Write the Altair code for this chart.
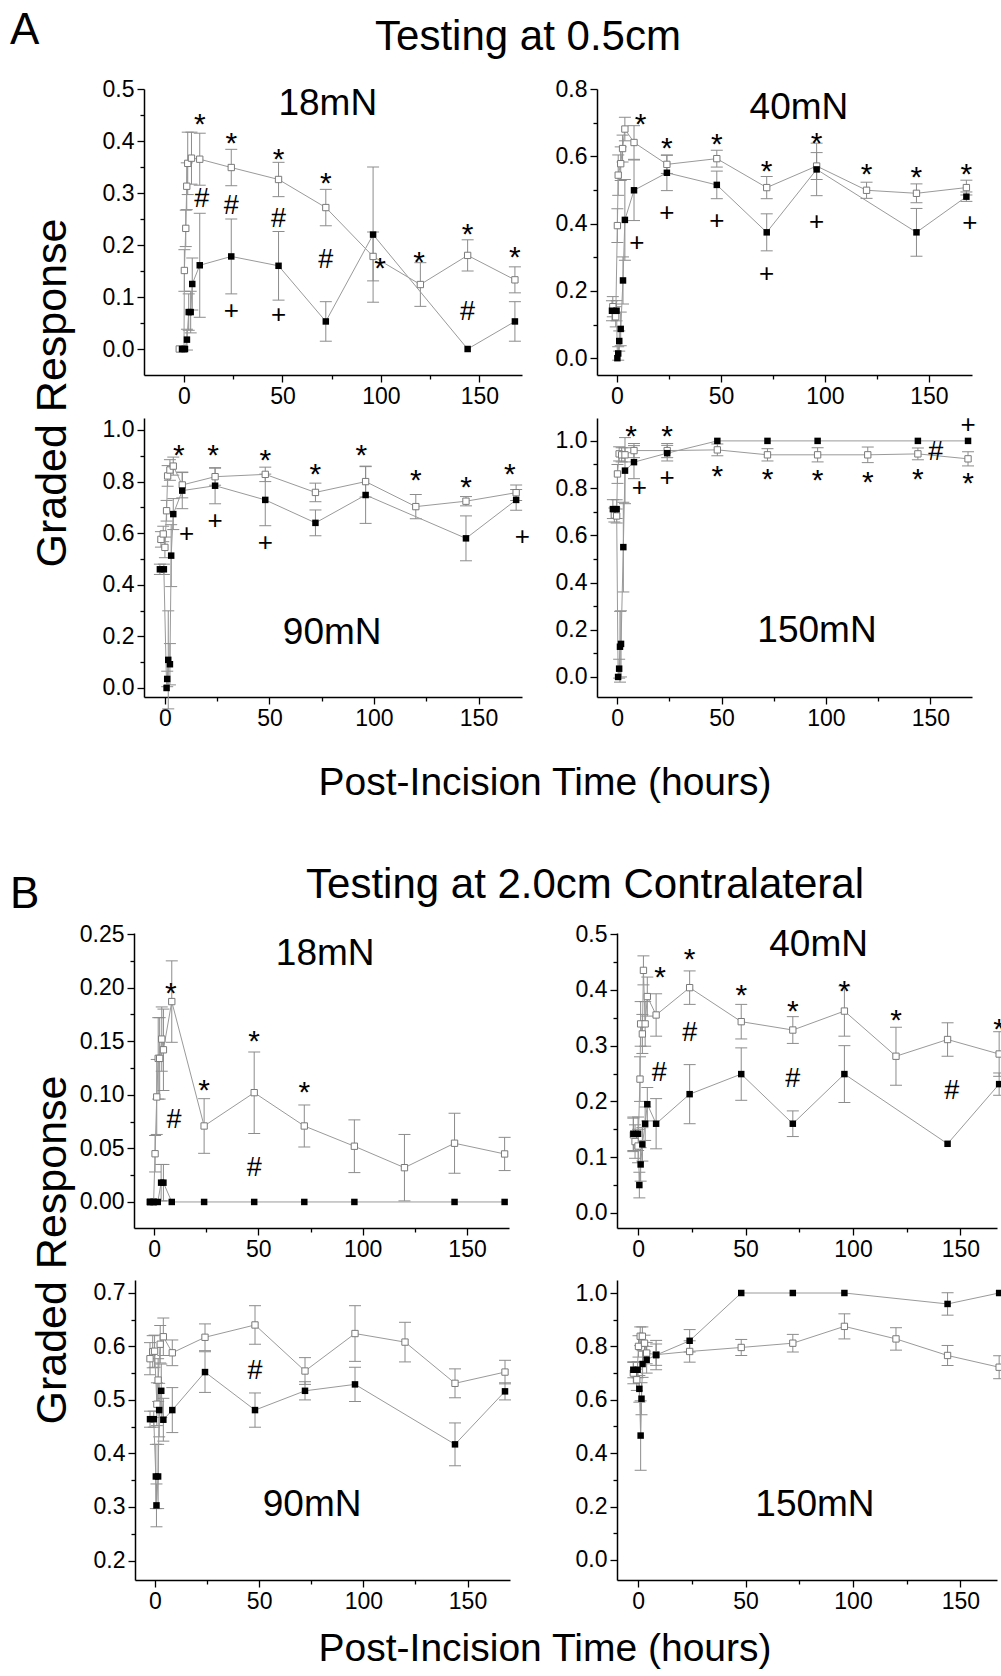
import altair as alt
import pandas as pd

FONT = "Liberation Sans"
ERR = "#8c8c8c"
LINE = "#9a9a9a"
OPEN_STROKE = "#7a7a7a"

X_TICKS = [0, 25, 50, 75, 100, 125, 150]

# ---------------- Panel A (testing at 0.5 cm) ----------------
A18_open_t = [-2.4, 0.0, 0.2, 0.9, 1.4, 1.9, 3.8, 8, 24, 48, 72, 96, 120, 144, 168]
A18_open_v = [0.0, 0.0, 0.151, 0.232, 0.313, 0.357, 0.367, 0.365, 0.349, 0.326, 0.272, 0.178, 0.124, 0.180, 0.133]
A18_open_e = [0.0, 0.0, 0.04, 0.035, 0.045, 0.06, 0.05, 0.05, 0.035, 0.033, 0.035, 0.047, 0.042, 0.03, 0.025]
A18_fill_t = [-1.0, 0.5, 1.5, 2.4, 3.4, 4.2, 8, 24, 48, 72, 96, 144, 168]
A18_fill_v = [0.0, 0.0, 0.018, 0.071, 0.071, 0.125, 0.161, 0.178, 0.160, 0.053, 0.220, 0.0, 0.053]
A18_fill_e = [0.0, 0.0, 0.02, 0.035, 0.04, 0.05, 0.10, 0.072, 0.066, 0.038, 0.13, 0.0, 0.038]
A18_ann_s = ["*", "*", "*", "*", "*", "*", "*", "*", "#", "#", "#", "#", "#", "+", "+"]
A18_ann_t = [8.1, 24, 48, 72, 99.5, 119.4, 144, 168, 9, 24, 48, 72, 144, 24, 48]
A18_ann_v = [0.446, 0.409, 0.378, 0.332, 0.170, 0.181, 0.235, 0.191, 0.291, 0.278, 0.253, 0.174, 0.075, 0.075, 0.068]
A18_yticks = [0.0, 0.05, 0.1, 0.15, 0.2, 0.25, 0.3, 0.35, 0.4, 0.45, 0.5]

A40_open_t = [-2, -0.6, 0.2, 0.6, 1.8, 2.7, 3.8, 8.2, 24, 48, 72, 96, 120, 144, 168]
A40_open_v = [0.153, 0.123, 0.394, 0.544, 0.578, 0.623, 0.681, 0.641, 0.576, 0.593, 0.507, 0.571, 0.499, 0.490, 0.507]
A40_open_e = [0.03, 0.03, 0.05, 0.06, 0.05, 0.04, 0.035, 0.05, 0.027, 0.025, 0.033, 0.04, 0.024, 0.028, 0.022]
A40_fill_t = [-2.4, -0.2, 0.2, 0.6, 1.1, 1.8, 2.9, 3.8, 8.2, 24, 48, 72, 96, 144, 168]
A40_fill_v = [0.141, 0.141, 0.0, 0.014, 0.051, 0.087, 0.231, 0.411, 0.499, 0.551, 0.515, 0.374, 0.561, 0.374, 0.480]
A40_fill_e = [0.03, 0.03, 0.0, 0.02, 0.03, 0.05, 0.07, 0.12, 0.09, 0.053, 0.041, 0.055, 0.078, 0.071, 0.014]
A40_ann_s = ["*", "*", "*", "*", "*", "*", "*", "*", "+", "+", "+", "+", "+", "+"]
A40_ann_t = [11.4, 24, 48, 72, 96, 120, 144, 168, 9.5, 24, 48, 72, 96, 169.7]
A40_ann_v = [0.718, 0.646, 0.656, 0.576, 0.659, 0.568, 0.559, 0.568, 0.347, 0.434, 0.410, 0.253, 0.407, 0.404]
A40_yticks = [0.0, 0.1, 0.2, 0.3, 0.4, 0.5, 0.6, 0.7, 0.8]

A90_open_t = [-1.9, -0.8, 0, 0.8, 1.3, 2.4, 4, 8.3, 24, 48, 72, 96, 120, 144, 168]
A90_open_v = [0.576, 0.597, 0.545, 0.687, 0.822, 0.845, 0.860, 0.787, 0.819, 0.828, 0.758, 0.800, 0.703, 0.724, 0.757]
A90_open_e = [0.03, 0.03, 0.04, 0.04, 0.04, 0.04, 0.035, 0.05, 0.033, 0.028, 0.036, 0.06, 0.047, 0.018, 0.03]
A90_fill_t = [-2.4, -0.5, 0.8, 1.1, 1.6, 2.4, 3, 4, 8.3, 24, 48, 72, 96, 144, 168]
A90_fill_v = [0.460, 0.460, 0.0, 0.035, 0.109, 0.092, 0.513, 0.674, 0.765, 0.784, 0.729, 0.640, 0.748, 0.580, 0.729]
A90_fill_e = [0.02, 0.02, 0.0, 0.03, 0.19, 0.08, 0.12, 0.06, 0.07, 0.07, 0.10, 0.05, 0.11, 0.087, 0.04]
A90_ann_s = ["*", "*", "*", "*", "*", "*", "*", "*", "+", "+", "+", "+"]
A90_ann_t = [6.7, 23, 48, 72, 94, 120, 144, 165, 10.4, 24, 48, 171]
A90_ann_v = [0.929, 0.929, 0.912, 0.858, 0.929, 0.832, 0.806, 0.858, 0.603, 0.651, 0.567, 0.59]
A90_yticks = [0.0, 0.1, 0.2, 0.3, 0.4, 0.5, 0.6, 0.7, 0.8, 0.9, 1.0]

A150_open_t = [-1.3, -0.2, 0.2, 1, 2.2, 3.8, 8.1, 24, 48, 72, 96, 120, 144, 168]
A150_open_v = [0.686, 0.682, 0.860, 0.945, 0.941, 0.941, 0.959, 0.959, 0.962, 0.941, 0.941, 0.941, 0.945, 0.924]
A150_open_e = [0.03, 0.03, 0.04, 0.03, 0.03, 0.03, 0.03, 0.03, 0.025, 0.026, 0.03, 0.033, 0.025, 0.03]
A150_fill_t = [-2, -0.2, 0.5, 1, 1.4, 1.9, 3, 3.8, 8.1, 24, 48, 72, 96, 144, 168]
A150_fill_v = [0.711, 0.711, 0.0, 0.035, 0.128, 0.140, 0.550, 0.874, 0.910, 0.948, 1.0, 1.0, 1.0, 1.0, 1.0]
A150_fill_e = [0.04, 0.04, 0.0, 0.04, 0.15, 0.14, 0.19, 0.14, 0.07, 0.033, 0.0, 0.0, 0.0, 0.0, 0.0]
A150_ann_s = ["*", "*", "*", "*", "*", "*", "*", "*", "+", "+", "+", "#"]
A150_ann_t = [6.7, 24, 48, 72, 96, 120, 144, 168, 10.7, 24, 168, 152.6]
A150_ann_v = [1.05, 1.05, 0.880, 0.870, 0.863, 0.856, 0.870, 0.852, 0.806, 0.849, 1.072, 0.959]
A150_yticks = [0.0, 0.1, 0.2, 0.3, 0.4, 0.5, 0.6, 0.7, 0.8, 0.9, 1.0]

# ---------------- Panel B (testing at 2.0 cm contralateral) ----------------
B18_open_t = [-1.9, -0.2, 0.5, 1.3, 2, 2.7, 3.7, 4.5, 8.5, 24, 48, 72, 96, 120, 144, 168]
B18_open_v = [0.0, 0.0, 0.045, 0.098, 0.134, 0.134, 0.152, 0.142, 0.187, 0.0709, 0.102, 0.0709, 0.052, 0.032, 0.0548, 0.0448]
B18_open_e = [0.0, 0.0, 0.017, 0.035, 0.038, 0.038, 0.03, 0.038, 0.038, 0.0255, 0.038, 0.0196, 0.0246, 0.031, 0.028, 0.0155]
B18_fill_t = [-1.9, -0.2, 1.8, 3.4, 4.5, 8.5, 24, 48, 72, 96, 144, 168]
B18_fill_v = [0.0, 0.0, 0.0, 0.018, 0.018, 0.0, 0.0, 0.0, 0.0, 0.0, 0.0, 0.0]
B18_fill_e = [0.0, 0.0, 0.0, 0.017, 0.017, 0.0, 0.0, 0.0, 0.0, 0.0, 0.0, 0.0]
B18_ann_s = ["*", "*", "*", "*", "#", "#"]
B18_ann_t = [8, 24, 48, 72, 9.6, 48]
B18_ann_v = [0.202, 0.111, 0.157, 0.109, 0.078, 0.033]
B18_yticks = [0.0, 0.025, 0.05, 0.075, 0.1, 0.125, 0.15, 0.175, 0.2, 0.225, 0.25]

B40_open_t = [-2.2, -1.4, 0, 0.9, 1.2, 2, 2.5, 3.3, 4.3, 8.4, 24, 48, 72, 96, 120, 144, 168]
B40_open_v = [0.14, 0.128, 0.12, 0.240, 0.339, 0.321, 0.435, 0.339, 0.388, 0.355, 0.404, 0.343, 0.328, 0.362, 0.281, 0.311, 0.285]
B40_open_e = [0.03, 0.03, 0.03, 0.04, 0.04, 0.035, 0.026, 0.04, 0.035, 0.038, 0.03, 0.031, 0.024, 0.045, 0.052, 0.030, 0.04]
B40_fill_t = [-2.2, 0, 0.6, 1.2, 2, 3.3, 4.3, 8.4, 24, 48, 72, 96, 144, 168]
B40_fill_v = [0.142, 0.142, 0.050, 0.087, 0.123, 0.160, 0.195, 0.160, 0.213, 0.249, 0.160, 0.249, 0.124, 0.231]
B40_fill_e = [0.03, 0.03, 0.023, 0.03, 0.03, 0.03, 0.03, 0.045, 0.053, 0.047, 0.023, 0.051, 0.0, 0.02]
B40_ann_s = ["*", "*", "*", "*", "*", "*", "*", "#", "#", "#", "#"]
B40_ann_t = [10.2, 24, 48, 72, 96, 120, 168, 9.9, 24, 72, 146]
B40_ann_v = [0.435, 0.468, 0.404, 0.374, 0.410, 0.359, 0.343, 0.254, 0.325, 0.243, 0.222]
B40_yticks = [0.0, 0.05, 0.1, 0.15, 0.2, 0.25, 0.3, 0.35, 0.4, 0.45, 0.5]

B90_open_t = [-2.4, -1.1, -0.2, 0.9, 1.5, 2.5, 4, 8.3, 24, 48, 72, 96, 120, 144, 168]
B90_open_v = [0.577, 0.590, 0.591, 0.492, 0.537, 0.604, 0.618, 0.588, 0.617, 0.640, 0.554, 0.624, 0.608, 0.531, 0.552]
B90_open_e = [0.03, 0.03, 0.03, 0.04, 0.04, 0.035, 0.035, 0.024, 0.025, 0.036, 0.025, 0.052, 0.037, 0.027, 0.022]
B90_fill_t = [-2.4, -0.6, 0.4, 0.7, 1.5, 2, 3, 4, 8.3, 24, 48, 72, 96, 144, 168]
B90_fill_v = [0.464, 0.464, 0.357, 0.303, 0.357, 0.481, 0.517, 0.463, 0.481, 0.552, 0.481, 0.517, 0.529, 0.417, 0.516]
B90_fill_e = [0.015, 0.015, 0.06, 0.04, 0.06, 0.05, 0.05, 0.04, 0.042, 0.038, 0.032, 0.017, 0.032, 0.040, 0.016]
B90_ann_s = ["#"]
B90_ann_t = [48]
B90_ann_v = [0.557]
B90_yticks = [0.2, 0.25, 0.3, 0.35, 0.4, 0.45, 0.5, 0.55, 0.6, 0.65, 0.7]

B150_open_t = [-2.2, -0.6, 0.2, 1, 2, 3, 4, 8.4, 24, 48, 72, 96, 120, 144, 168]
B150_open_v = [0.70, 0.675, 0.80, 0.838, 0.838, 0.812, 0.775, 0.769, 0.781, 0.796, 0.812, 0.875, 0.828, 0.766, 0.722]
B150_open_e = [0.04, 0.04, 0.04, 0.035, 0.035, 0.03, 0.04, 0.04, 0.04, 0.03, 0.033, 0.047, 0.042, 0.0375, 0.043]
B150_fill_t = [-2.2, -0.2, 0.6, 1.2, 1.6, 2.1, 4, 8.4, 24, 48, 72, 96, 144, 168]
B150_fill_v = [0.7125, 0.7125, 0.641, 0.466, 0.604, 0.734, 0.75, 0.7675, 0.821, 1.0, 1.0, 1.0, 0.959, 1.0]
B150_fill_e = [0.03, 0.03, 0.05, 0.13, 0.06, 0.05, 0.05, 0.055, 0.042, 0.0, 0.0, 0.0, 0.042, 0.0]
B150_ann_s = []
B150_ann_t = []
B150_ann_v = []
B150_yticks = [0.0, 0.1, 0.2, 0.3, 0.4, 0.5, 0.6, 0.7, 0.8, 0.9, 1.0]


def series_df(t, v, e, name):
    return pd.DataFrame({
        "t": t, "v": v,
        "lo": [a - b for a, b in zip(v, e)],
        "hi": [a + b for a, b in zip(v, e)],
        "s": name,
    })


def major_test(step):
    return f"abs(datum.value / {step} - round(datum.value / {step})) < 0.001"


def text_layer(s, x, y, size, angle=0, align="center"):
    return alt.Chart(pd.DataFrame({"s": [s]})).mark_text(
        font=FONT, fontSize=size, align=align, baseline="alphabetic",
        angle=angle, color="black"
    ).encode(x=alt.value(x), y=alt.value(y), text="s:N")


def panel(open_t, open_v, open_e, fill_t, fill_v, fill_e, ann_s, ann_t, ann_v,
          label, label_t, label_v, xdom, xrng, ydom, yrng, yticks, ystep, yfmt,
          yoff, W, H, extra=(), clip=False):
    xaxis = alt.Axis(values=X_TICKS, format="d",
                     labelExpr=f"{major_test(50)} ? datum.label : ''",
                     tickSize={"condition": {"test": major_test(50), "value": 7}, "value": 4},
                     title=None, grid=False)
    yaxis = alt.Axis(values=yticks, format=yfmt,
                     labelExpr=f"{major_test(ystep)} ? datum.label : ''",
                     tickSize={"condition": {"test": major_test(ystep), "value": 7}, "value": 4},
                     offset=yoff, title=None, grid=False)
    xs = alt.Scale(domain=xdom, range=xrng, nice=False, zero=False)
    ys = alt.Scale(domain=ydom, range=yrng, nice=False, zero=False)

    def X(f):
        return alt.X(f"{f}:Q", scale=xs, axis=xaxis)

    def Y(f):
        return alt.Y(f"{f}:Q", scale=ys, axis=yaxis)

    o = series_df(open_t, open_v, open_e, "open")
    f = series_df(fill_t, fill_v, fill_e, "filled")
    both = pd.concat([o, f], ignore_index=True)
    eb = both[both.hi > both.lo]

    layers = [
        alt.Chart(eb).mark_rule(color=ERR, strokeWidth=1, clip=clip).encode(
            x=X("t"), y=Y("lo"), y2="hi:Q"),
        alt.Chart(eb).mark_tick(orient="horizontal", size=12, thickness=1, color=ERR,
                                opacity=1, clip=clip).encode(x=X("t"), y=Y("lo")),
        alt.Chart(eb).mark_tick(orient="horizontal", size=12, thickness=1, color=ERR,
                                opacity=1, clip=clip).encode(x=X("t"), y=Y("hi")),
        alt.Chart(f).mark_line(color=LINE, strokeWidth=1, clip=clip).encode(x=X("t"), y=Y("v")),
        alt.Chart(o).mark_line(color=LINE, strokeWidth=1, clip=clip).encode(x=X("t"), y=Y("v")),
        alt.Chart(o).mark_square(size=40, fill="white", stroke=OPEN_STROKE, strokeWidth=1,
                                 opacity=1, clip=clip).encode(x=X("t"), y=Y("v")),
        alt.Chart(f).mark_square(size=42, color="black", opacity=1, clip=clip).encode(
            x=X("t"), y=Y("v")),
    ]
    ann = pd.DataFrame({"s": ann_s, "t": ann_t, "v": ann_v})
    for sym, fs, dy in [("*", 30, 17), ("#", 27, 9.5), ("+", 26, 9.2)]:
        sub = ann[ann.s == sym]
        if len(sub):
            layers.append(alt.Chart(sub).mark_text(
                font=FONT, fontSize=fs, dy=dy, baseline="alphabetic", color="black", clip=clip
            ).encode(x=X("t"), y=Y("v"), text="s:N"))
    lab = pd.DataFrame({"s": [label], "t": [label_t], "v": [label_v]})
    layers.append(alt.Chart(lab).mark_text(
        font=FONT, fontSize=37, dy=13, baseline="alphabetic", color="black"
    ).encode(x=X("t"), y=Y("v"), text="s:N"))
    layers.extend(extra)
    return alt.layer(*layers).properties(width=W, height=H)


LW, RW = 522, 404

pA18 = panel(A18_open_t, A18_open_v, A18_open_e, A18_fill_t, A18_fill_v, A18_fill_e,
             A18_ann_s, A18_ann_t, A18_ann_v, "18mN", 73, 0.475,
             [-20.3, 171.6], [144, 522], [-0.05, 0.5], [375, 89], A18_yticks, 0.1, ".1f",
             -144, LW, 375,
             extra=[text_layer("A", 10, 44, 44, align="left"),
                    text_layer("Testing at 0.5cm", 528, 50, 42),
                    text_layer("Graded Response", 66, 393, 43, angle=270)])
pA40 = panel(A40_open_t, A40_open_v, A40_open_e, A40_fill_t, A40_fill_v, A40_fill_e,
             A40_ann_s, A40_ann_t, A40_ann_v, "40mN", 87.5, 0.749,
             [-9.6, 170.7], [0, 375], [-0.05, 0.8], [375, 89], A40_yticks, 0.2, ".1f",
             0, RW, 375)
pA90 = panel(A90_open_t, A90_open_v, A90_open_e, A90_fill_t, A90_fill_v, A90_fill_e,
             A90_ann_s, A90_ann_t, A90_ann_v, "90mN", 80, 0.221,
             [-10.0, 170.8], [144, 522], [-0.035, 1.0465], [279, 0], A90_yticks, 0.2, ".1f",
             -144, LW, 279,
             extra=[text_layer("Post-Incision Time (hours)", 545, 377, 39)])
pA150 = panel(A150_open_t, A150_open_v, A150_open_e, A150_fill_t, A150_fill_v, A150_fill_e,
              A150_ann_s, A150_ann_t, A150_ann_v, "150mN", 95.7, 0.203,
              [-9.6, 169.9], [0, 375], [-0.085, 1.097], [279, 0], A150_yticks, 0.2, ".1f",
              0, RW, 279)
pB18 = panel(B18_open_t, B18_open_v, B18_open_e, B18_fill_t, B18_fill_v, B18_fill_e,
             B18_ann_s, B18_ann_t, B18_ann_v, "18mN", 82, 0.233,
             [-9.6, 170.1], [134, 509], [-0.0243, 0.251], [488, 193], B18_yticks, 0.05, ".2f",
             -134, LW, 488,
             extra=[text_layer("B", 10, 168, 44, align="left"),
                    text_layer("Testing at 2.0cm Contralateral", 585, 158, 42),
                    text_layer("Graded Response", 66, 510, 43, angle=270)])
pB40 = panel(B40_open_t, B40_open_v, B40_open_e, B40_fill_t, B40_fill_v, B40_fill_e,
             B40_ann_s, B40_ann_t, B40_ann_v, "40mN", 84, 0.484,
             [-9.8, 167.0], [20, 400], [-0.027, 0.502], [488, 193], B40_yticks, 0.1, ".1f",
             -20, RW, 488, clip=True)
pB90 = panel(B90_open_t, B90_open_v, B90_open_e, B90_fill_t, B90_fill_v, B90_fill_e,
             B90_ann_s, B90_ann_t, B90_ann_v, "90mN", 75.4, 0.307,
             [-9.6, 170.4], [135, 510], [0.1636, 0.724], [309, 9], B90_yticks, 0.1, ".1f",
             -135, LW, 309,
             extra=[text_layer("Post-Incision Time (hours)", 545, 390, 39)])
pB150 = panel(B150_open_t, B150_open_v, B150_open_e, B150_fill_t, B150_fill_v, B150_fill_e,
              B150_ann_s, B150_ann_t, B150_ann_v, "150mN", 82.3, 0.213,
              [-9.8, 167.0], [20, 400], [-0.075, 1.0487], [309, 9], B150_yticks, 0.2, ".1f",
              -20, RW, 309, clip=True)

chart = alt.concat(
    pA18, pA40, pA90, pA150, pB18, pB40, pB90, pB150,
    columns=2, spacing={"row": 43, "column": 75}, bounds="flush", align="each"
).properties(padding=0).configure_view(strokeWidth=0).configure_axis(
    domainColor="black", domainWidth=1.5, tickColor="black", tickWidth=1.3,
    labelColor="black", labelFont=FONT, labelFontSize=23, labelPadding=3, grid=False
)

chart.save("out.html", embed_options={"renderer": "svg", "actions": False})
